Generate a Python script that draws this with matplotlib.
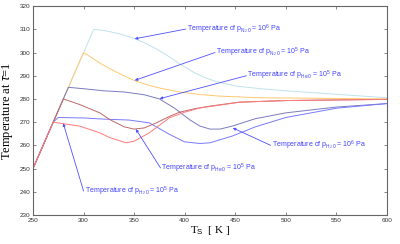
import matplotlib
matplotlib.use("Agg")
import matplotlib.pyplot as plt

plt.rcParams['font.family'] = ['Liberation Sans', 'DejaVu Sans']
plt.rcParams['mathtext.fontset'] = 'custom'
plt.rcParams['mathtext.rm'] = 'Liberation Sans'
plt.rcParams['mathtext.it'] = 'Liberation Sans:italic'
plt.rcParams['mathtext.bf'] = 'Liberation Sans:bold'

# ---- data ----
n2_6_x = [250, 310, 320, 330, 340, 350, 360, 370, 380, 390, 400, 410, 420, 430, 450, 475, 500, 550, 600]
n2_6_y = [250, 310, 309.5, 308.6, 307.5, 306, 304.2, 302, 299.5, 296.6, 293.8, 291.2, 289.2, 287.6, 285.6, 284.4, 283.5, 282, 280.5]

n2_5_x = [250, 300, 308, 316, 325, 335, 350, 362, 375, 395, 415, 435, 475, 600]
n2_5_y = [250, 300, 297.8, 295.5, 293.2, 291, 288, 286.2, 284.7, 283, 281.9, 281.2, 280.5, 280]

he_up_x = [250, 285, 300, 320, 340, 360, 375, 390, 405, 415, 425, 435, 447, 470, 500, 550, 600]
he_up_y = [250, 285, 284.4, 283.5, 283, 281.8, 280, 276, 271, 268.3, 267, 267, 268.3, 271.5, 274, 276.5, 278]

h2_6_x = [250, 270, 275, 300, 320, 345, 365, 385, 400, 415, 425, 447, 470, 500, 550, 600]
h2_6_y = [250, 270, 272, 271.8, 271.3, 270.9, 269.7, 264.7, 261.5, 260.8, 261.1, 264, 268, 272, 276, 278]

he_lo_x = [250, 280, 296, 316, 326, 340, 350, 360, 372, 385, 395, 410, 425, 454, 500, 600]
he_lo_y = [250, 280, 277.6, 274, 271.1, 268, 267, 267.5, 269.7, 272.5, 274.3, 275.8, 276.9, 278.6, 279.3, 279.8]

h2_5_x = [250, 270, 296, 316, 326, 342, 350, 365, 385, 400, 415, 454, 500, 600]
h2_5_y = [250, 270, 268.3, 265.4, 263.3, 261.1, 261.8, 265.4, 271.9, 274.3, 276.1, 278.6, 279.3, 279.8]

x_ticks = [250, 300, 350, 400, 450, 500, 550, 600]
y_ticks = [230, 240, 250, 260, 270, 280, 290, 300, 310, 320]

labels = [
    r'Temperature of p$_{\mathrm{N_2\,0}}$ = 10$^6$ Pa',
    r'Temperature of p$_{\mathrm{N_2\,0}}$ = 10$^5$ Pa',
    r'Temperature of p$_{\mathrm{He\,0}}$ = 10$^5$ Pa',
    r'Temperature of p$_{\mathrm{H_2\,0}}$ = 10$^6$ Pa',
    r'Temperature of p$_{\mathrm{He\,0}}$ = 10$^5$ Pa',
    r'Temperature of p$_{\mathrm{H_2\,0}}$ = 10$^5$ Pa',
]
label_xy = [(402, 310.1), (431, 300), (462, 290), (486, 260), (377, 250.3), (301, 240.3)]
arrow_xy = [(350.6, 305.9), (350.6, 288), (375.2, 280.1), (447.5, 267.5), (351.6, 267), (279.9, 269.5)]

fig = plt.figure(figsize=(4.0, 2.44), dpi=100)
ax = fig.add_axes([0.0825, 0.119, 0.885, 0.856])

series = [
    (n2_6_x, n2_6_y, '#bfe2ea'),
    (n2_5_x, n2_5_y, '#ffc870'),
    (he_up_x, he_up_y, '#7a7abf'),
    (h2_6_x, h2_6_y, '#7a7aff'),
    (he_lo_x, he_lo_y, '#bb6a6a'),
    (h2_5_x, h2_5_y, '#ff7a7a'),
]
for xs, ys, c in series:
    ax.plot(xs, ys, color=c, lw=0.7)

acol = '#5050ff'
for lab, (tx, ty), (hx, hy) in zip(labels, label_xy, arrow_xy):
    ax.annotate('', xy=(hx, hy), xytext=(tx - 1, ty),
                arrowprops=dict(arrowstyle='-|>', color=acol, lw=0.6,
                                mutation_scale=4, shrinkA=0, shrinkB=0))
    ax.text(tx, ty, lab, ha='left', va='center', fontsize=5, color='#4040ff')

ax.set_xlim(250, 600)
ax.set_ylim(230, 320)
ax.set_xticks(x_ticks)
ax.set_yticks(y_ticks)
ax.tick_params(direction='in', length=2, width=0.5, labelsize=4.6,
               colors='#555555', labelcolor='#333333', top=True, right=True, pad=2)
for s in ax.spines.values():
    s.set_color('#666666')
    s.set_linewidth(0.8)

ax.set_xlabel(r'T$_{\mathrm{S}}$  [ K ]', family='Liberation Serif', fontsize=8, labelpad=1)
ax.set_ylabel(r'Temperature at $\tau$=1', family='Liberation Serif', fontsize=9, labelpad=3)

fig.savefig('out.png', dpi=100)
